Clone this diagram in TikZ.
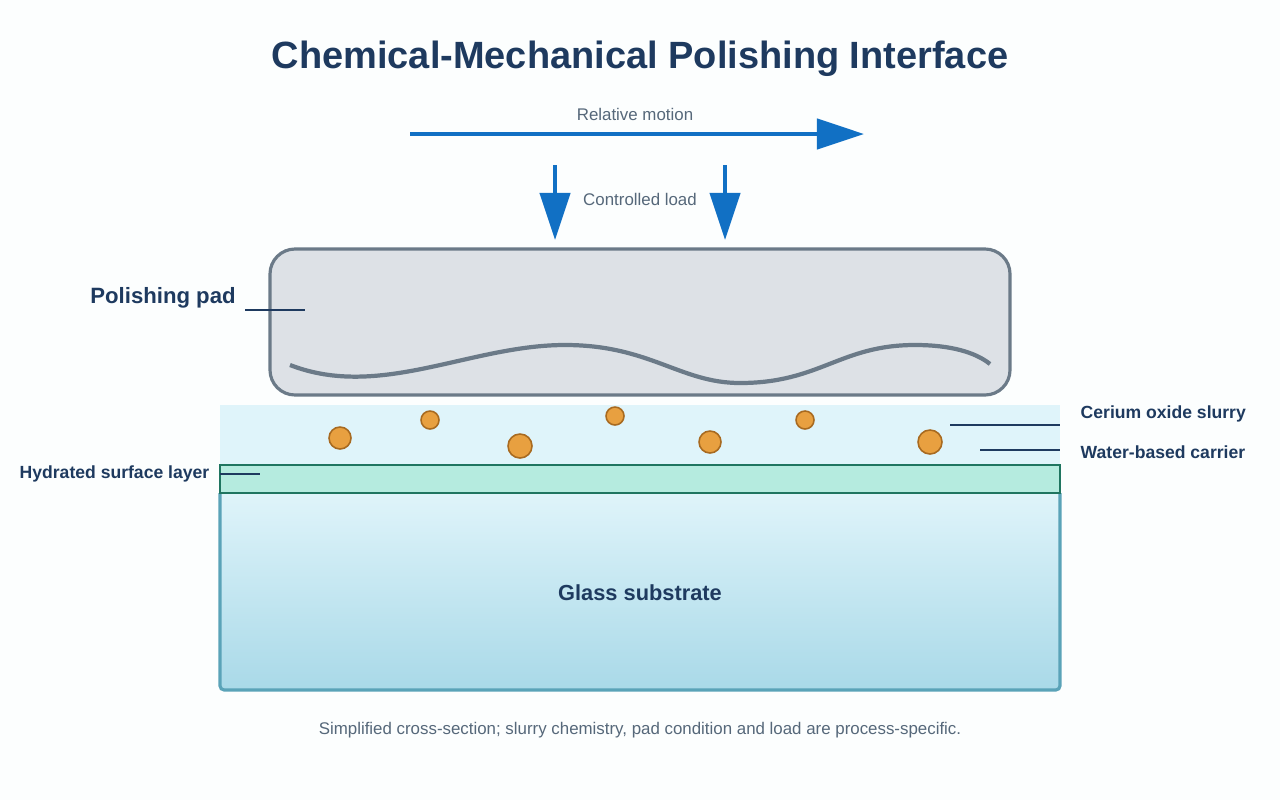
\documentclass[tikz,border=0pt]{standalone}
\usepackage{fontspec}
\setmainfont{Liberation Sans}
\usetikzlibrary{positioning,arrows.meta}
\definecolor{ink}{HTML}{1E3A5F}
\definecolor{note}{HTML}{56687A}
\definecolor{flow}{HTML}{1170C4}
\definecolor{padfill}{HTML}{DDE1E6}
\definecolor{padline}{HTML}{6B7A88}
\definecolor{slurry}{HTML}{DFF4FA}
\definecolor{hydr}{HTML}{B5EBDF}
\definecolor{hydrline}{HTML}{1F7560}
\definecolor{glassb}{HTML}{A9D9E8}
\definecolor{glassline}{HTML}{5AA3B8}
\definecolor{grain}{HTML}{E8A040}
\definecolor{grainline}{HTML}{A86A20}
\begin{document}
\begin{tikzpicture}[x=0.01cm, y=-0.01cm,
	lbl/.style={font=\bfseries\fontsize{5}{6}\selectfont, text=ink, inner sep=0pt},
	small/.style={font=\fontsize{4.8}{5.5}\selectfont, text=note},
	lead/.style={draw=ink, line width=0.7pt},
	push/.style={-{Triangle[length=0.47cm,width=0.3cm]}, draw=flow, fill=flow, line width=1.2pt},
	grain/.style={circle, draw=grainline, fill=grain, line width=0.45pt, inner sep=0pt}]
	\fill[white!50!slurry!20] (0,0) rectangle (1280,800);
	\useasboundingbox (0,0) rectangle (1280,800);

	\node [font=\bfseries\fontsize{10.8}{12}\selectfont, text=ink] (title) at (640,59) {Chemical-Mechanical Polishing Interface};

	% motion and load
	\coordinate (m0) at (410,134);
	\coordinate (m1) at (864,134);
	\draw[push] (m0) -- (m1);
	\node [small] (motion) at (635,114) {Relative motion};
	\coordinate (l0) at (555,165);
	\coordinate (l1) at (555,240);
	\coordinate (r0) at (725,165);
	\coordinate (r1) at (725,240);
	\draw[push] (l0) -- (l1);
	\draw[push] (r0) -- (r1);
	\node [small] (load) at (640,199) {Controlled load};

	% layers
	\fill[slurry] (220,405) rectangle (1060,465);
	\shade[top color=slurry, bottom color=glassb, draw=glassline, line width=0.9pt, rounded corners=1.2pt]
		(220,493) -- (220,690) -- (1060,690) -- (1060,493);
	\draw[fill=hydr, draw=hydrline, line width=0.75pt] (220,465) rectangle (1060,493);
	\node [lbl, font=\bfseries\fontsize{6.2}{7}\selectfont] (glass) at (640,593) {Glass substrate};

	\draw[fill=padfill, draw=padline, line width=0.9pt, rounded corners=0.25cm] (270,249) rectangle (1010,395);
	\draw[padline, line width=1.2pt] (290,365) .. controls (380,400) and (470,345) .. (565,345)
		.. controls (650,345) and (680,383) .. (740,383)
		.. controls (820,383) and (840,345) .. (915,345)
		.. controls (950,345) and (975,352) .. (990,364);

	\foreach \x/\y/\r [count=\i] in {340/438/11, 430/420/9, 520/446/12, 615/416/9, 710/442/11, 805/420/9, 930/442/12}
		\node [grain, minimum size=2*\r*0.01cm] (g\i) at (\x,\y) {};

	% labels
	\node [lbl, font=\bfseries\fontsize{6.3}{7}\selectfont] (pad) at (163,298) {Polishing pad};
	\coordinate (p0) at (245,310);
	\coordinate (p1) at (305,310);
	\draw[lead] (p0) -- (p1);
	\node [lbl, anchor=west] (cer) at (1080,414) {Cerium oxide slurry};
	\coordinate (c0) at (950,425);
	\coordinate (c1) at (1060,425);
	\draw[lead] (c0) -- (c1);
	\node [lbl, anchor=west] (wat) at (1080,452) {Water-based carrier};
	\coordinate (w0) at (980,450);
	\coordinate (w1) at (1060,450);
	\draw[lead] (w0) -- (w1);
	\node [lbl, anchor=east] (hyd) at (210,474) {Hydrated surface layer};
	\coordinate (h0) at (220,474);
	\coordinate (h1) at (260,474);
	\draw[lead] (h0) -- (h1);

	\node [small] (foot) at (640,730) {Simplified cross-section; slurry chemistry, pad condition and load are process-specific.};
\end{tikzpicture}
\end{document}
